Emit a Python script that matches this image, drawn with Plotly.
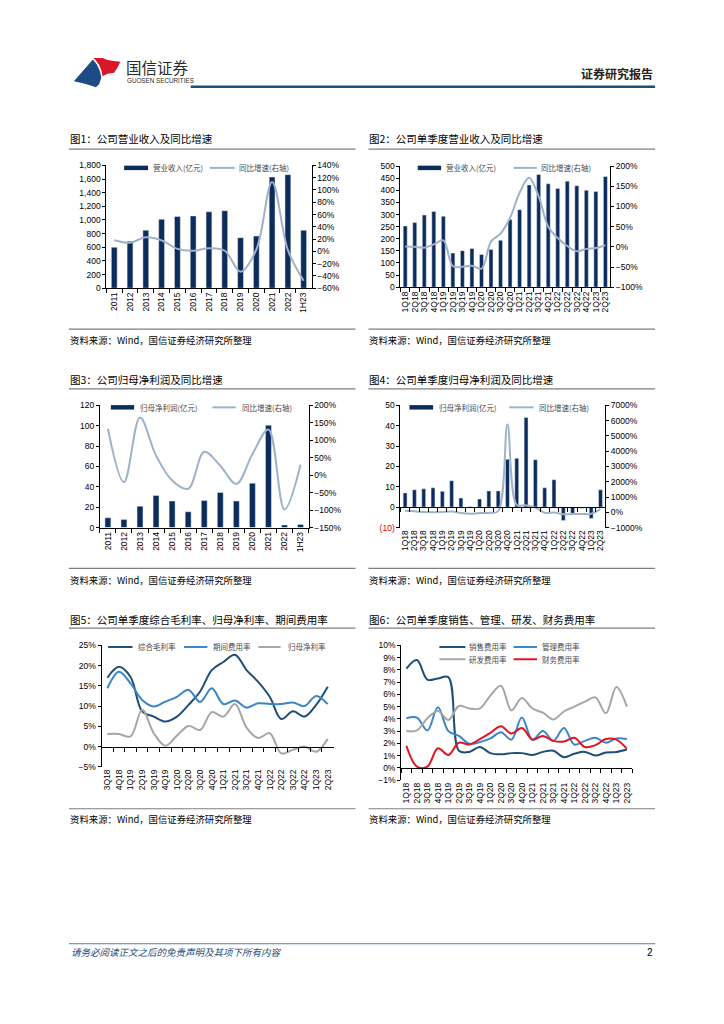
import plotly.graph_objects as go

W, H = 724, 1024
def px(x): return x / W
def py(y): return 1 - y / H

# ---------------- data ----------------
years = ["2011", "2012", "2013", "2014", "2015", "2016", "2017", "2018", "2019", "2020", "2021", "2022", "1H23"]
rev_annual = [600, 690, 850, 1010, 1050, 1060, 1120, 1135, 740, 765, 1630, 1665, 850]
rev_annual_yoy = [18, 14, 23, 18, 4, 1, 5, 1, -33, 3, 113, 2, -48]

quarters = ["1Q18", "2Q18", "3Q18", "4Q18", "1Q19", "2Q19", "3Q19", "4Q19", "1Q20", "2Q20", "3Q20",
            "4Q20", "1Q21", "2Q21", "3Q21", "4Q21", "1Q22", "2Q22", "3Q22", "4Q22", "1Q23", "2Q23"]
rev_q = [253, 267, 298, 313, 293, 141, 151, 160, 135, 156, 194, 280, 320, 422, 465, 427, 408, 438, 419, 400, 395, 457]
rev_q_yoy = [1, 0, -2, 6, 16, -48, -49, -47, -54, 13, 33, 72, 134, 171, 125, 50, 22, 2, -11, -5, -3, 4]

np_annual = [9.5, 8, 21, 31.5, 26, 15.5, 26.5, 34.5, 26, 43.5, 100.5, 2.5, 3]
np_annual_yoy = [133, -20, 165, 56, -15, -39, 67, 27, -25, 60, 131, -98, 30]

np_q = [7, 8.5, 9, 9.5, 7.8, 13, 4.5, 0.2, 4, 8, 8, 23.5, 24, 44, 23.3, 9.5, 13.5, -6.5, -3, -0.5, -5.5, 8.5]
np_q_yoy = [100, 60, 10, 0, 10, 50, -50, -100, -50, -40, 80, 5750, 480, 460, 300, -30, -10, -130, -120, -110, -100, 200]

quarters5 = ["3Q18", "4Q18", "1Q19", "2Q19", "3Q19", "4Q19", "1Q20", "2Q20", "3Q20", "4Q20",
             "1Q21", "2Q21", "3Q21", "4Q21", "1Q22", "2Q22", "3Q22", "4Q22", "1Q23", "2Q23"]
gross_margin = [17.0, 19.7, 17.2, 8.7, 7.4, 6.2, 7.4, 10.3, 13.6, 18.9, 20.9, 22.7, 18.9, 16.0, 12.3, 6.8, 8.7, 7.4, 10.3, 14.8]
expense_ratio = [14.4, 18.5, 15.6, 11.5, 9.9, 11.1, 12.3, 14.0, 11.0, 14.4, 10.5, 11.4, 9.6, 10.7, 10.5, 10.5, 10.9, 10.0, 12.5, 10.5]
net_margin = [3.1, 3.1, 2.5, 9.1, 3.3, 0.2, 2.7, 5.1, 4.1, 8.5, 7.4, 10.5, 4.7, 2.1, 3.3, -1.7, -0.8, 0.0, -1.3, 1.9]

sales_ratio = [8.1, 8.8, 7.2, 7.3, 7.4, 1.4, 1.3, 1.7, 1.2, 1.1, 1.2, 1.2, 1.05, 1.3, 1.4, 0.87, 1.15, 1.3, 1.0, 1.25, 1.3, 1.5]
admin_ratio = [4.05, 4.1, 3.05, 4.95, 3.0, 2.6, 1.97, 2.1, 2.4, 2.9, 2.3, 4.1, 2.3, 3.0, 2.2, 3.25, 1.9, 2.2, 2.45, 2.05, 2.4, 2.35]
rd_ratio = [3.0, 3.05, 4.05, 4.65, 3.9, 5.05, 4.85, 4.85, 5.9, 6.7, 4.7, 5.7, 4.85, 4.5, 3.95, 4.6, 5.0, 5.4, 5.75, 4.45, 6.6, 5.0]
fin_ratio = [1.8, 0.1, 0.1, 1.6, 1.05, 2.05, 1.9, 2.35, 2.85, 3.4, 2.8, 3.25, 2.3, 2.6, 2.2, 2.15, 2.45, 1.7, 1.85, 2.35, 2.3, 1.55]

# ---------------- styles ----------------
NAVY = "#0C2C5C"
GROW = "#9FB2C9"
DARKB = "#1F4E79"
MIDB = "#3A86C8"
GRAY = "#A6A6A6"
RED = "#E3141E"
FONT = "Liberation Sans, Arial, sans-serif"
CJK = "Noto Sans CJK SC"
TICKF = dict(family=FONT, size=8.5, color="black")

fig = go.Figure()
layout = {}
shapes = []
annotations = []

def xaxis_cfg(x0, x1, anchor, n, labels=True, line=True, **kw):
    d = dict(domain=[px(x0), px(x1)], anchor=anchor, type="category", range=[-0.5, n - 0.5],
             tickmode="linear", tick0=0, dtick=1,
             showline=line, linecolor="black", linewidth=1,
             ticks="outside" if line else "", ticklen=4, tickcolor="black", tickson="boundaries",
             tickangle=-90, tickfont=TICKF, showgrid=False, zeroline=False,
             showticklabels=labels, fixedrange=True)
    d.update(kw)
    return d

def yaxis_cfg(ytop, ybot, lo, hi, dt, anchor, side="left", overlaying=None, **kw):
    d = dict(domain=[py(ybot), py(ytop)], anchor=anchor, range=[lo, hi], dtick=dt, tick0=lo,
             side=side, showline=True, linecolor="black", linewidth=1, ticks="outside",
             ticklen=3, tickcolor="black", tickfont=TICKF, showgrid=False, zeroline=False,
             fixedrange=True)
    if overlaying:
        d["overlaying"] = overlaying
    d.update(kw)
    return d

def text(x, y, s, size=9, color="black", anchor="left", family=CJK, **kw):
    annotations.append(dict(x=px(x), y=py(y), xref="paper", yref="paper", text=s, showarrow=False,
                            xanchor=anchor, yanchor="middle",
                            font=dict(family=family, size=size, color=color), **kw))

def hline(x0, x1, y, color="#7F7F7F", width=1.2):
    shapes.append(dict(type="line", xref="paper", yref="paper", x0=px(x0), x1=px(x1),
                       y0=py(y), y1=py(y), line=dict(color=color, width=width)))

def swatch_bar(x0, x1, yc, color=NAVY, h=4.5):
    shapes.append(dict(type="rect", xref="paper", yref="paper", x0=px(x0), x1=px(x1),
                       y0=py(yc + h / 2), y1=py(yc - h / 2), fillcolor=color, line=dict(width=0)))

def swatch_line(x0, x1, yc, color, width=2):
    shapes.append(dict(type="line", xref="paper", yref="paper", x0=px(x0), x1=px(x1),
                       y0=py(yc), y1=py(yc), line=dict(color=color, width=width)))

def legend_text(x, y, s):
    text(x, y, s, size=7.5, color="#4a4a4a")

def zero_pos(ytop, ybot, lo, hi):
    yb, yt = py(ybot), py(ytop)
    return yb + (0 - lo) / (hi - lo) * (yt - yb)

# ---------------- chart 1 ----------------
C1 = dict(x0=105.5, x1=311, yt=162, yb=286)
fig.add_trace(go.Bar(x=years, y=rev_annual, marker_color=NAVY, width=0.37, xaxis="x", yaxis="y",
                     showlegend=False, hoverinfo="skip"))
fig.add_trace(go.Scatter(x=years, y=rev_annual_yoy, mode="lines", line=dict(color=GROW, width=2, shape="spline", smoothing=1),
                         xaxis="x", yaxis="y7", showlegend=False, hoverinfo="skip"))
layout["xaxis"] = xaxis_cfg(C1["x0"], C1["x1"], "y", len(years))
layout["yaxis"] = yaxis_cfg(C1["yt"], C1["yb"], 0, 1800, 200, "x", tickformat=",d")
layout["yaxis7"] = yaxis_cfg(C1["yt"], C1["yb"], -60, 140, 20, "x", side="right", overlaying="y", ticksuffix="%")

# ---------------- chart 2 ----------------
C2 = dict(x0=400, x1=610, yt=162.7, yb=285)
fig.add_trace(go.Bar(x=quarters, y=rev_q, marker_color=NAVY, width=0.42, xaxis="x2", yaxis="y2",
                     showlegend=False, hoverinfo="skip"))
fig.add_trace(go.Scatter(x=quarters, y=rev_q_yoy, mode="lines", line=dict(color=GROW, width=2, shape="spline", smoothing=1),
                         xaxis="x2", yaxis="y8", showlegend=False, hoverinfo="skip"))
layout["xaxis2"] = xaxis_cfg(C2["x0"], C2["x1"], "y2", len(quarters))
layout["yaxis2"] = yaxis_cfg(C2["yt"], C2["yb"], 0, 500, 50, "x2")
layout["yaxis8"] = yaxis_cfg(C2["yt"], C2["yb"], -100, 200, 50, "x2", side="right", overlaying="y2", ticksuffix="%")

# ---------------- chart 3 ----------------
C3 = dict(x0=99, x1=308, yt=404.3, yb=527.7)
fig.add_trace(go.Bar(x=years, y=np_annual, marker_color=NAVY, width=0.37, xaxis="x3", yaxis="y3",
                     showlegend=False, hoverinfo="skip"))
fig.add_trace(go.Scatter(x=years, y=np_annual_yoy, mode="lines", line=dict(color=GROW, width=2, shape="spline", smoothing=1),
                         xaxis="x3", yaxis="y9", showlegend=False, hoverinfo="skip"))
layout["xaxis3"] = xaxis_cfg(C3["x0"], C3["x1"], "y3", len(years))
layout["yaxis3"] = yaxis_cfg(C3["yt"], C3["yb"], 0, 120, 20, "x3")
layout["yaxis9"] = yaxis_cfg(C3["yt"], C3["yb"], -150, 200, 50, "x3", side="right", overlaying="y3", ticksuffix="%")

# ---------------- chart 4 ----------------
C4 = dict(x0=400, x1=605, yt=404.3, yb=527.7)
fig.add_trace(go.Bar(x=quarters, y=np_q, marker_color=NAVY, width=0.42, xaxis="x4", yaxis="y4",
                     showlegend=False, hoverinfo="skip"))
fig.add_trace(go.Scatter(x=quarters, y=np_q_yoy, mode="lines", line=dict(color=GROW, width=2, shape="spline", smoothing=1),
                         xaxis="x4", yaxis="y10", showlegend=False, hoverinfo="skip"))
fig.add_trace(go.Scatter(x=quarters, y=np_q, mode="markers", marker=dict(opacity=0, size=1),
                         xaxis="x7", yaxis="y4", showlegend=False, hoverinfo="skip"))
layout["xaxis4"] = xaxis_cfg(C4["x0"], C4["x1"], "y4", len(quarters), line=False)
layout["xaxis7"] = xaxis_cfg(C4["x0"], C4["x1"], "free", len(quarters), labels=False, overlaying="x4",
                             position=zero_pos(C4["yt"], C4["yb"], -10, 50))
l4_vals = [-10, 0, 10, 20, 30, 40, 50]
l4_text = ["<span style='color:#E00000'>(10)</span>", "0", "10", "20", "30", "40", "50"]
layout["yaxis4"] = yaxis_cfg(C4["yt"], C4["yb"], -10, 50, 10, "x4", tickmode="array", tickvals=l4_vals, ticktext=l4_text)
layout["yaxis10"] = yaxis_cfg(C4["yt"], C4["yb"], -1000, 7000, 1000, "x4", side="right", overlaying="y4", ticksuffix="%", tickformat="d")

# ---------------- chart 5 ----------------
C5 = dict(x0=100.7, x1=333, yt=646.7, yb=769.3)
for vals, col in [(gross_margin, DARKB), (expense_ratio, MIDB), (net_margin, GRAY)]:
    fig.add_trace(go.Scatter(x=quarters5, y=vals, mode="lines", line=dict(color=col, width=2, shape="spline", smoothing=1),
                             xaxis="x5", yaxis="y5", showlegend=False, hoverinfo="skip"))
fig.add_trace(go.Scatter(x=quarters5, y=gross_margin, mode="markers", marker=dict(opacity=0, size=1),
                         xaxis="x8", yaxis="y5", showlegend=False, hoverinfo="skip"))
layout["xaxis5"] = xaxis_cfg(C5["x0"], C5["x1"], "y5", len(quarters5), line=False)
layout["xaxis8"] = xaxis_cfg(C5["x0"], C5["x1"], "free", len(quarters5), labels=False, overlaying="x5",
                             position=zero_pos(C5["yt"], C5["yb"], -5, 25))
layout["yaxis5"] = yaxis_cfg(C5["yt"], C5["yb"], -5, 25, 5, "x5", ticksuffix="%")

# ---------------- chart 6 ----------------
C6 = dict(x0=400.7, x1=632, yt=646.7, yb=782.7)
for vals, col in [(sales_ratio, DARKB), (admin_ratio, MIDB), (rd_ratio, GRAY), (fin_ratio, RED)]:
    fig.add_trace(go.Scatter(x=quarters, y=vals, mode="lines", line=dict(color=col, width=2, shape="spline", smoothing=1),
                             xaxis="x6", yaxis="y6", showlegend=False, hoverinfo="skip"))
fig.add_trace(go.Scatter(x=quarters, y=sales_ratio, mode="markers", marker=dict(opacity=0, size=1),
                         xaxis="x9", yaxis="y6", showlegend=False, hoverinfo="skip"))
layout["xaxis6"] = xaxis_cfg(C6["x0"], C6["x1"], "y6", len(quarters), line=False)
layout["xaxis9"] = xaxis_cfg(C6["x0"], C6["x1"], "free", len(quarters), labels=False, overlaying="x6",
                             position=zero_pos(C6["yt"], C6["yb"], -1, 10))
layout["yaxis6"] = yaxis_cfg(C6["yt"], C6["yb"], -1, 10, 1, "x6", ticksuffix="%")

# ---------------- legends ----------------
swatch_bar(123.3, 147.3, 164.5); legend_text(150, 164.5, "营业收入(亿元)")
swatch_line(209, 234, 164.5, GROW); legend_text(236, 164.5, "同比增速(右轴)")
swatch_bar(417.3, 440.7, 164.5); legend_text(443.5, 164.5, "营业收入(亿元)")
swatch_line(513.3, 536.7, 164.5, GROW); legend_text(539, 164.5, "同比增速(右轴)")
swatch_bar(110, 133.3, 406.3); legend_text(137, 406.3, "归母净利润(亿元)")
swatch_line(211.7, 235, 406.3, GROW); legend_text(239, 406.3, "同比增速(右轴)")
swatch_bar(409, 432.7, 406.3); legend_text(436.5, 406.3, "归母净利润(亿元)")
swatch_line(509, 533.3, 406.3, GROW); legend_text(536.5, 406.3, "同比增速(右轴)")
swatch_line(107.3, 131.7, 648.3, DARKB); legend_text(135, 648.3, "综合毛利率")
swatch_line(183.3, 206.7, 648.3, MIDB); legend_text(210, 648.3, "期间费用率")
swatch_line(257.7, 280, 648.3, GRAY); legend_text(285, 648.3, "归母净利率")
swatch_line(439, 465, 648.3, DARKB); legend_text(467, 648.3, "销售费用率")
swatch_line(513.3, 536.7, 648.3, MIDB); legend_text(540, 648.3, "管理费用率")
swatch_line(439, 465, 660.7, GRAY); legend_text(467, 660.7, "研发费用率")
swatch_line(513.3, 536.7, 660.7, RED); legend_text(540, 660.7, "财务费用率")

# ---------------- titles, rules, sources ----------------
titles = [
    (68, 135, "图1：公司营业收入及同比增速"), (368, 135, "图2：公司单季度营业收入及同比增速"),
    (68, 377.7, "图3：公司归母净利润及同比增速"), (368, 377.7, "图4：公司单季度归母净利润及同比增速"),
    (68, 620.5, "图5：公司单季度综合毛利率、归母净利率、期间费用率"), (368, 620.5, "图6：公司单季度销售、管理、研发、财务费用率"),
]
for x, y, s in titles:
    text(x - 1, y, s, size=10.5, color="black")
for x0 in (68, 368):
    for y in (145.5, 327.3, 387.7, 569, 629.3, 811.7):
        hline(x0, x0 + 287, y)
    for y in (338.5, 580.5, 822.5):
        text(x0 - 1, y, "资料来源：Wind，国信证券经济研究所整理", size=9.4, color="black")

# ---------------- header / footer ----------------
def path_from(points):
    s = "M " + " L ".join(f"{px(x):.5f},{py(y):.5f}" for x, y in points) + " Z"
    return s

blue_logo = [(73, 77), (92, 55), (96, 60), (99, 66.7), (100.5, 73.3), (98.3, 80), (95, 83),
             (89, 81), (82, 79)]
red_logo = [(92.5, 53.5), (101.7, 53.5), (106.7, 55.5), (113.3, 56.5), (119.5, 57.3), (117, 62.7),
            (113.3, 68.3), (106.7, 69.3), (101.7, 72), (100.7, 66.7), (98.3, 60.7), (95, 56)]
shapes.append(dict(type="path", xref="paper", yref="paper", path=path_from(blue_logo),
                   fillcolor="#1C4B86", line=dict(width=0)))
shapes.append(dict(type="path", xref="paper", yref="paper", path=path_from(red_logo),
                   fillcolor="#D7182A", line=dict(width=0)))
text(123, 63, "国信证券", size=15.5, color="#2b2b2b")
text(124, 76.5, "GUOSEN SECURITIES", size=6.3, color="#2b2b2b", family=FONT)
hline(190, 655, 82.5, color="#1F4E79", width=2.5)
text(655, 69, "<b>证券研究报告</b>", size=12, color="#222222", anchor="right")

hline(68, 655, 948, color="#5B7FA6", width=1)
text(68, 956.5, "<i>请务必阅读正文之后的免责声明及其项下所有内容</i>", size=9.5, color="#1F4E79")
text(655, 956.5, "2", size=10, color="black", anchor="right", family=FONT)

layout.update(dict(width=W, height=H, margin=dict(l=0, r=0, t=0, b=0), paper_bgcolor="white",
                   plot_bgcolor="rgba(0,0,0,0)", shapes=shapes, annotations=annotations,
                   barmode="overlay", font=dict(family=FONT)))
fig.update_layout(**layout)
fig.write_html("out.html", config={"displayModeBar": False, "staticPlot": True},
               post_script="document.body.style.margin='0px';document.body.style.overflow='hidden';")
